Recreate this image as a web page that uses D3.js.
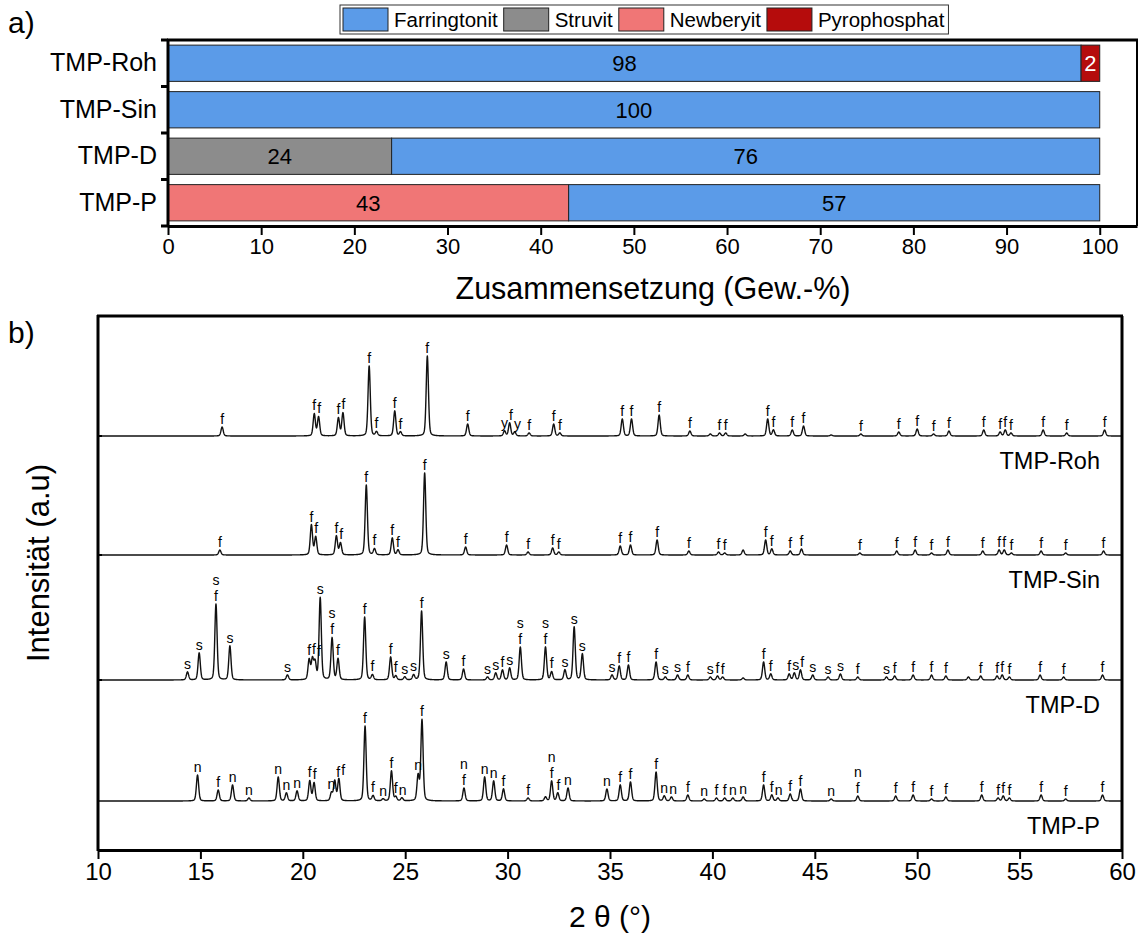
<!DOCTYPE html>
<html>
<head>
<meta charset="utf-8">
<script src="https://cdn.jsdelivr.net/npm/d3@7"></script>
<style>
  body { margin: 0; background: #fff; }
  text { font-family: "Liberation Sans", Arial, sans-serif; fill: #000; }
</style>
</head>
<body>
<svg id="chart" width="1142" height="942"></svg>
<script>
// ---- a) phase composition (wt.-%) ----
const samples = ['TMP-Roh', 'TMP-Sin', 'TMP-D', 'TMP-P'];
const phases = ['Farringtonit', 'Struvit', 'Newberyit', 'Pyrophosphat'];
const phaseColors = ['#5b9be8', '#8c8c8c', '#f07676', '#b50c0c'];
const farringtonit = [98, 100, 76, 57];
const struvit = [0, 0, 24, 0];
const newberyit = [0, 0, 0, 43];
const pyrophosphat = [2, 0, 0, 0];
const stackOrder = ['Struvit', 'Newberyit', 'Farringtonit', 'Pyrophosphat'];
const compTicks = [0, 10, 20, 30, 40, 50, 60, 70, 80, 90, 100];

// ---- b) XRD peaks: [2theta, intensity, label] (label chars stacked top->bottom) ----
const peaksRoh = [
  [16.06, 9, 'f'], [20.56, 22, 'f'], [20.77, 19, 'f'], [21.74, 18, 'f'], [21.96, 23, 'f'],
  [23.24, 70, 'f'], [23.6, 4, 'f'], [24.49, 25, 'f'], [24.77, 4, 'f'], [26.08, 80, 'f'],
  [28.05, 12, 'f'], [29.85, 5, 'y'], [30.1, 13, 'f'], [30.35, 4, 'y'], [31.05, 3, 'f'],
  [32.25, 12, 'f'], [32.55, 3, 'f'], [35.6, 17, 'f'], [36.05, 17, 'f'], [37.4, 21, 'f'],
  [38.9, 5, 'f'], [39.9, 2, ''], [40.35, 3, 'f'], [40.65, 3, 'f'], [41.6, 2, ''],
  [42.7, 17, 'f'], [42.98, 6, 'f'], [43.9, 6, 'f'], [44.45, 10, 'f'], [45.8, 1, ''],
  [47.25, 2, 'f'], [49.1, 4, 'f'], [50.0, 7, 'f'], [50.8, 2, 'f'], [51.55, 5, 'f'],
  [53.25, 6, 'f'], [54.05, 4, 'f'], [54.3, 6, 'f'], [54.58, 3, 'f'], [56.15, 6, 'f'],
  [57.3, 3, 'f'], [59.15, 6, 'f']
];
const peaksSin = [
  [15.95, 5, 'f'], [20.42, 30, 'f'], [20.63, 18, 'f'], [21.64, 19, 'f'], [21.84, 12, 'f'],
  [23.1, 70, 'f'], [23.5, 6, 'f'], [24.37, 17, 'f'], [24.65, 5, 'f'], [25.95, 82, 'f'],
  [27.95, 8, 'f'], [29.95, 10, 'f'], [31.0, 3, 'f'], [32.2, 7, 'f'], [32.5, 3, 'f'],
  [35.5, 9, 'f'], [36.0, 10, 'f'], [37.3, 15, 'f'], [38.85, 4, 'f'], [40.3, 3, 'f'],
  [40.6, 2, 'f'], [41.5, 5, ''], [42.6, 15, 'f'], [42.9, 6, 'f'], [43.8, 4, 'f'],
  [44.35, 6, 'f'], [47.2, 2, 'f'], [49.0, 4, 'f'], [49.9, 5, 'f'], [50.7, 2, 'f'],
  [51.5, 5, 'f'], [53.2, 4, 'f'], [54.0, 5, 'f'], [54.25, 5, 'f'], [54.6, 2, 'f'],
  [56.05, 4, 'f'], [57.25, 2, 'f'], [59.1, 4, 'f']
];
const peaksD = [
  [14.37, 8, 's'], [14.94, 27, 's'], [15.76, 76, 'sf'], [16.44, 34, 's'], [19.25, 5, 's'],
  [20.31, 20, 'f'], [20.47, 20, 'f'], [20.6, 17, 'f'], [20.85, 82, 's'], [21.43, 42, 'sf'],
  [21.72, 21, 'f'], [23.02, 63, 'f'], [23.4, 5, 'f'], [24.29, 23, 'f'], [24.54, 4, 'f'],
  [24.98, 3, 's'], [25.41, 5, 's'], [25.8, 69, 'f'], [27.0, 18, 's'], [27.85, 11, 'f'],
  [29.02, 3, 's'], [29.42, 7, 's'], [29.75, 10, 'f'], [30.1, 12, 's'], [30.62, 33, 'sf'],
  [31.85, 33, 'sf'], [32.15, 8, 'f'], [32.8, 10, 's'], [33.25, 53, 's'], [33.65, 26, 's'],
  [35.1, 5, 's'], [35.45, 14, 'f'], [35.9, 15, 'f'], [37.25, 18, 'f'], [37.7, 3, 's'],
  [38.3, 5, 's'], [38.8, 5, 'f'], [39.9, 3, 's'], [40.25, 4, 'f'], [40.5, 3, 'f'],
  [41.5, 2, ''], [42.5, 18, 'f'], [42.85, 6, 'f'], [43.75, 6, 'f'], [44.0, 7, 's'],
  [44.3, 10, 'f'], [44.9, 5, 's'], [45.65, 3, 's'], [46.25, 6, 's'], [47.1, 3, 'f'],
  [48.5, 3, 's'], [48.9, 4, 'f'], [49.8, 5, 'f'], [50.7, 5, 'f'], [51.4, 4, 'f'],
  [52.5, 3, ''], [53.1, 4, 'f'], [53.9, 4, 'f'], [54.15, 5, 'f'], [54.5, 3, 'f'],
  [56.0, 5, 'f'], [57.15, 3, 'f'], [59.05, 5, 'f']
];
const peaksP = [
  [14.86, 26, 'n'], [15.87, 11, 'f'], [16.57, 16, 'n'], [17.37, 3, 'n'], [18.8, 24, 'n'],
  [19.2, 8, 'n'], [19.72, 10, 'n'], [20.34, 20, 'f'], [20.55, 18, 'f'], [21.4, 8, 'n'],
  [21.56, 20, 'f'], [21.76, 22, 'f'], [23.04, 75, 'f'], [23.43, 5, 'f'], [23.92, 2, 'n'],
  [24.33, 30, 'f'], [24.54, 4, 'f'], [24.84, 3, 'n'], [25.63, 25, 'n'], [25.82, 81, 'f'],
  [27.87, 13, 'nf'], [28.88, 24, 'n'], [29.32, 20, 'n'], [29.8, 12, 'f'], [31.0, 3, 'f'],
  [31.85, 4, ''], [32.15, 20, 'nf'], [32.45, 8, 'f'], [32.95, 13, 'n'], [34.85, 12, 'n'],
  [35.5, 16, 'f'], [36.0, 19, 'f'], [37.25, 29, 'f'], [37.65, 5, 'n'], [38.0, 4, 'n'],
  [38.8, 6, 'f'], [39.6, 2, 'n'], [40.2, 3, 'f'], [40.6, 3, 'f'], [41.0, 3, 'n'],
  [41.5, 4, 'n'], [42.5, 16, 'f'], [42.9, 6, 'f'], [43.2, 3, 'n'], [43.8, 7, 'f'],
  [44.3, 12, 'f'], [45.8, 2, 'n'], [47.1, 5, 'nf'], [48.95, 5, 'f'], [49.8, 6, 'f'],
  [50.7, 2, 'f'], [51.4, 4, 'f'], [53.15, 6, 'f'], [53.95, 3, 'f'], [54.2, 5, 'f'],
  [54.5, 3, 'f'], [56.05, 6, 'f'], [57.25, 2, 'f'], [59.05, 6, 'f']
];
const peakSets = [peaksRoh, peaksSin, peaksD, peaksP];
const patternOffsets = [414, 295, 170, 49];
const thetaTicks = [10, 15, 20, 25, 30, 35, 40, 45, 50, 55, 60];

const svg = d3.select('#chart');

// ================= a) =================
const x = d3.scaleLinear().domain([0, 104]).range([168, 1137]);
const y = d3.scaleBand().domain(samples).range([40, 226]).paddingInner(0.22).paddingOuter(0.11);
const color = d3.scaleOrdinal().domain(phases).range(phaseColors);

const rows = samples.map((s, i) => ({
  sample: s,
  Farringtonit: farringtonit[i],
  Struvit: struvit[i],
  Newberyit: newberyit[i],
  Pyrophosphat: pyrophosphat[i]
}));
const stacked = d3.stack().keys(stackOrder)(rows);

const barG = svg.append('g');
stacked.forEach(series => {
  const segs = series.filter(d => d[1] - d[0] > 0);
  barG.selectAll(null)
    .data(segs)
    .enter().append('rect')
    .attr('x', d => x(d[0]))
    .attr('y', d => y(d.data.sample))
    .attr('width', d => x(d[1]) - x(d[0]))
    .attr('height', y.bandwidth())
    .style('fill', color(series.key))
    .style('stroke', '#222')
    .style('stroke-width', 1);
  barG.selectAll(null)
    .data(segs)
    .enter().append('text')
    .attr('x', d => (x(d[0]) + x(d[1])) / 2)
    .attr('y', d => y(d.data.sample) + y.bandwidth() / 2)
    .attr('dy', '0.36em')
    .attr('text-anchor', 'middle')
    .style('font-size', '22px')
    .style('fill', series.key === 'Pyrophosphat' ? '#fff' : '#000')
    .text(d => d[1] - d[0]);
});

// x axis (composition)
const xAxisG = svg.append('g').attr('transform', 'translate(0,226)');
xAxisG.call(d3.axisBottom(x).tickValues(d3.range(0, 105, 2)).tickSize(5).tickSizeOuter(0).tickFormat(''));
xAxisG.call(d3.axisBottom(x).tickValues(compTicks).tickSize(9).tickSizeOuter(0).tickFormat(d3.format('d')));
xAxisG.selectAll('line').style('stroke', '#000').style('stroke-width', 2);
xAxisG.selectAll('path').style('stroke', '#000').style('stroke-width', 3);
xAxisG.selectAll('text').style('font-size', '22px').attr('y', 12);

// y axis (samples)
const yAxisG = svg.append('g').attr('transform', 'translate(168,0)');
yAxisG.call(d3.axisLeft(y).tickSize(0).tickPadding(11));
yAxisG.selectAll('text').style('font-size', '25px');
yAxisG.select('path').remove();
const bounds = samples.map(s => y(s) - y.step() * y.paddingInner() / 2).concat([226]);
yAxisG.selectAll('.sep').data(bounds).enter().append('line')
  .attr('x1', -7).attr('x2', 0).attr('y1', d => d).attr('y2', d => d)
  .style('stroke', '#000').style('stroke-width', 3);
svg.append('line').attr('x1', 168).attr('x2', 168).attr('y1', 39).attr('y2', 227)
  .style('stroke', '#000').style('stroke-width', 3);
// frame
svg.append('line').attr('x1', 167).attr('x2', 1138).attr('y1', 40).attr('y2', 40)
  .style('stroke', '#000').style('stroke-width', 3);
svg.append('line').attr('x1', 1137).attr('x2', 1137).attr('y1', 40).attr('y2', 226)
  .style('stroke', '#000').style('stroke-width', 2);

svg.append('text').attr('x', 653).attr('y', 299).attr('text-anchor', 'middle')
  .style('font-size', '30.5px').text('Zusammensetzung (Gew.-%)');
svg.append('text').attr('x', 8).attr('y', 33).style('font-size', '30px').text('a)');

// legend
const legend = svg.append('g');
const legBox = legend.append('rect').attr('x', 340).attr('y', 5).attr('height', 29)
  .style('fill', '#fff').style('stroke', '#333').style('stroke-width', 1);
let lx = 343;
phases.forEach((p, i) => {
  legend.append('rect').attr('x', lx).attr('y', 8).attr('width', 45).attr('height', 23)
    .style('fill', phaseColors[i]).style('stroke', '#222').style('stroke-width', 1);
  const t = legend.append('text').attr('x', lx + 51).attr('y', 26.5)
    .style('font-size', '20.5px').text(p);
  lx += 51 + t.node().getComputedTextLength() + 6;
});
legBox.attr('width', lx - 340 - 2);

// ================= b) =================
const xt = d3.scaleLinear().domain([10, 60]).range([98, 1122]);
const yt = d3.scaleLinear().domain([0, 534]).range([850, 316]);

const profile = (peaks, t) => {
  let s = 0;
  peaks.forEach(([pos, h]) => {
    const u = (t - pos) / 0.13;
    s += h * (0.72 * Math.exp(-2.7726 * u * u) + 0.28 / (1 + 4 * u * u));
  });
  return s;
};

const grid = d3.range(10, 60.0001, 0.01);
const line = d3.line().x(d => xt(d[0])).y(d => yt(d[1]));
const patG = svg.append('g');
const labelSize = 14;
const lineGap = 16;
const charW = { f: 0.278, s: 0.5, n: 0.556, y: 0.5 };
peakSets.forEach((peaks, i) => {
  const off = patternOffsets[i];
  const pts = grid.map(t => [t, off + profile(peaks, t)]);
  patG.append('path').datum(pts).attr('d', line)
    .style('fill', 'none').style('stroke', '#111').style('stroke-width', 1.4)
    .style('stroke-linejoin', 'round');

  // peak labels, nudged sideways where they would collide
  const items = peaks.filter(p => p[2]).map(p => {
    const top = yt(off + profile(peaks, p[0]));
    const chars = p[2].split('');
    const w = d3.max(chars, c => charW[c]) * labelSize;
    return { x: xt(p[0]), w, base: top - 3, hi: top - 3 - 12 - (chars.length - 1) * lineGap, chars };
  });
  items.forEach((it, k) => {
    for (let j = k - 1; j >= 0 && j >= k - 4; j--) {
      const pr = items[j];
      const vOverlap = it.hi < pr.base + 3 && pr.hi < it.base + 3;
      const minGap = (it.w + pr.w) / 2 + 1;
      if (vOverlap && it.x - pr.x < minGap) it.x = pr.x + minGap;
    }
  });
  items.forEach(it => {
    const t = patG.append('text')
      .attr('x', it.x)
      .attr('y', it.base - (it.chars.length - 1) * lineGap)
      .attr('text-anchor', 'middle')
      .style('font-size', labelSize + 'px');
    it.chars.forEach((c, k) => {
      t.append('tspan').attr('x', it.x).attr('dy', k === 0 ? 0 : lineGap).text(c);
    });
  });
  svg.append('text').attr('x', 1100).attr('y', yt(off) + 33)
    .attr('text-anchor', 'end').style('font-size', '23.5px').text(samples[i]);
});

// axes b)
const xtG = svg.append('g').attr('transform', 'translate(0,850)');
xtG.call(d3.axisBottom(xt).tickValues(d3.range(10, 61, 1)).tickSize(5).tickSizeOuter(0).tickFormat(''));
xtG.call(d3.axisBottom(xt).tickValues(thetaTicks).tickSize(9).tickSizeOuter(0).tickFormat(d3.format('d')));
xtG.selectAll('line').style('stroke', '#000').style('stroke-width', 2);
xtG.selectAll('path').style('stroke', '#000').style('stroke-width', 3);
xtG.selectAll('text').style('font-size', '24px').attr('y', 13);

const ytG = svg.append('g').attr('transform', 'translate(98,0)');
ytG.selectAll('line').data(patternOffsets.slice(0, 3)).enter().append('line')
  .attr('x1', 0).attr('x2', 4).attr('y1', d => yt(d)).attr('y2', d => yt(d))
  .style('stroke', '#000').style('stroke-width', 2);
svg.append('line').attr('x1', 98).attr('x2', 98).attr('y1', 315).attr('y2', 851)
  .style('stroke', '#000').style('stroke-width', 3);
svg.append('line').attr('x1', 97).attr('x2', 1123).attr('y1', 316).attr('y2', 316)
  .style('stroke', '#000').style('stroke-width', 3);
svg.append('line').attr('x1', 1122).attr('x2', 1122).attr('y1', 316).attr('y2', 850)
  .style('stroke', '#000').style('stroke-width', 3);

svg.append('text').attr('x', 610).attr('y', 927).attr('text-anchor', 'middle')
  .style('font-size', '30px').text('2 θ (°)');
svg.append('text').attr('transform', 'translate(49,563) rotate(-90)')
  .attr('text-anchor', 'middle').style('font-size', '31px').text('Intensität (a.u)');
svg.append('text').attr('x', 8).attr('y', 343).style('font-size', '30px').text('b)');
</script>
</body>
</html>
